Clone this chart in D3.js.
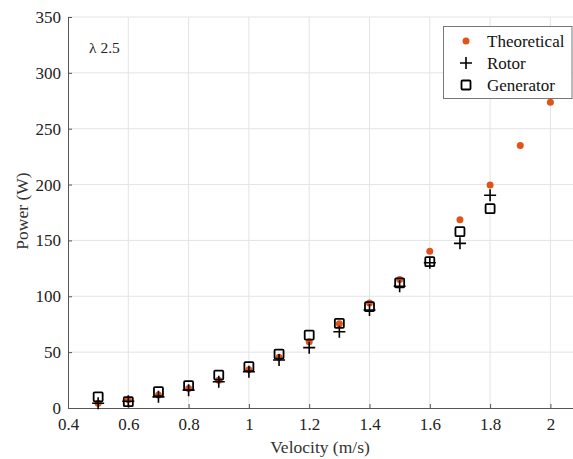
<!DOCTYPE html>
<html>
<head>
<meta charset="utf-8">
<script src="https://d3js.org/d3.v7.min.js"></script>
<style>
  body { margin: 0; background: #fff; }
  .grid line { stroke: #e4e4e4; stroke-width: 1; }
  .axis path, .axis line { stroke: #555; }
</style>
</head>
<body>
<svg id="canvas" width="573" height="459"></svg>
<script>
"use strict"

const velocity    = [0.5, 0.6, 0.7, 0.8, 0.9, 1.0, 1.1, 1.2, 1.3, 1.4, 1.5, 1.6, 1.7, 1.8, 1.9, 2.0]
const theoretical = [4.3, 7.4, 11.7, 17.5, 24.9, 34.2, 45.5, 59.4, 75.5, 94, 115, 140.3, 168.6, 199.6, 235, 273.7]
// rotor and generator only measured up to 1.8 m/s
const rotorV      = [0.5, 0.6, 0.7, 0.8, 0.9, 1.0, 1.1, 1.2, 1.3, 1.4, 1.5, 1.6, 1.7, 1.8]
const rotor       = [4.2, 6, 10, 16, 23.5, 32.5, 43, 54, 68.3, 87.7, 109, 130, 147.4, 190.4]
const generator   = [10, 5.7, 14.6, 20, 29.5, 37, 48.3, 65.3, 75.8, 90.7, 112, 131, 157.8, 178.4]
const xTicks = [0.4, 0.6, 0.8, 1, 1.2, 1.4, 1.6, 1.8, 2]
const yTicks = [0, 50, 100, 150, 200, 250, 300, 350]
const legendNames = ["Theoretical", "Rotor", "Generator"]

const FONT = "Liberation Serif"
const svg = d3.select("#canvas")
const m = { left: 68, top: 17, bottom: 408 }

const x = d3.scaleLinear().domain([0.4, 2.1]).range([m.left, m.left + 301.5 * 1.7])
const y = d3.scaleLinear().domain([0, 350]).range([m.bottom, m.top])

// grid
const grid = svg.append("g").attr("class", "grid")
grid.selectAll(".gx").data(xTicks.slice(1)).enter().append("line")
  .attr("x1", d => x(d)).attr("x2", d => x(d))
  .attr("y1", y(0)).attr("y2", y(350))
grid.selectAll(".gy").data(yTicks.slice(1)).enter().append("line")
  .attr("x1", x(0.4)).attr("x2", x(2.1))
  .attr("y1", d => y(d)).attr("y2", d => y(d))

// axes, ticks pointing inward
const xAxis = svg.append("g").attr("class", "axis")
  .attr("transform", `translate(0,${y(0)})`)
  .call(d3.axisBottom(x).tickValues(xTicks).tickSizeInner(-4).tickSizeOuter(0).tickPadding(10)
    .tickFormat(d3.format("")))
const yAxis = svg.append("g").attr("class", "axis")
  .attr("transform", `translate(${x(0.4)},0)`)
  .call(d3.axisLeft(y).tickValues(yTicks).tickSizeInner(-4).tickSizeOuter(0).tickPadding(7))
;[xAxis, yAxis].forEach(a => {
  a.attr("font-family", FONT).attr("font-size", 17)
  a.selectAll("text").attr("fill", "#222")
})

// labels
svg.append("text")
  .attr("x", 320).attr("y", 453)
  .attr("text-anchor", "middle").attr("font-family", FONT).attr("font-size", 17.5).attr("fill", "#333")
  .text("Velocity (m/s)")
svg.append("text")
  .attr("transform", "translate(28,211) rotate(-90)")
  .attr("text-anchor", "middle").attr("font-family", FONT).attr("font-size", 17.5).attr("fill", "#333")
  .text("Power (W)")
svg.append("text")
  .attr("x", 89).attr("y", 53)
  .attr("font-family", FONT).attr("font-size", 15.5).attr("fill", "#222")
  .text("λ 2.5")

const orange = "#e0541c"

// markers
function plus(g, cx, cy) {
  g.append("path")
    .attr("d", `M${cx - 6},${cy}H${cx + 6}M${cx},${cy - 6}V${cy + 6}`)
    .attr("stroke", "#000").attr("stroke-width", 1.6).attr("fill", "none")
}
function square(g, cx, cy) {
  g.append("rect")
    .attr("x", cx - 4.5).attr("y", cy - 4.5).attr("width", 9).attr("height", 9).attr("rx", 1)
    .attr("stroke", "#000").attr("stroke-width", 1.8).attr("fill", "none")
}

const marks = svg.append("g")
marks.selectAll("circle").data(velocity).enter().append("circle")
  .attr("cx", d => x(d)).attr("cy", (d, i) => y(theoretical[i]))
  .attr("r", 3.5).attr("fill", orange)
rotorV.forEach((v, i) => plus(marks, x(v), y(rotor[i])))
rotorV.forEach((v, i) => square(marks, x(v), y(generator[i])))

// legend
const lg = svg.append("g")
lg.append("rect")
  .attr("x", 443.5).attr("y", 26.5).attr("width", 128.5).attr("height", 72)
  .attr("fill", "#fff").attr("stroke", "#777")
legendNames.forEach((name, i) => {
  const ly = 41 + i * 22
  if (i == 0) lg.append("circle").attr("cx", 466).attr("cy", ly).attr("r", 3.5).attr("fill", orange)
  if (i == 1) plus(lg, 466, ly)
  if (i == 2) square(lg, 466, ly)
  lg.append("text").attr("x", 487).attr("y", ly + 5.5)
    .attr("font-family", FONT).attr("font-size", 17).attr("fill", "#111").text(name)
})
</script>
</body>
</html>
